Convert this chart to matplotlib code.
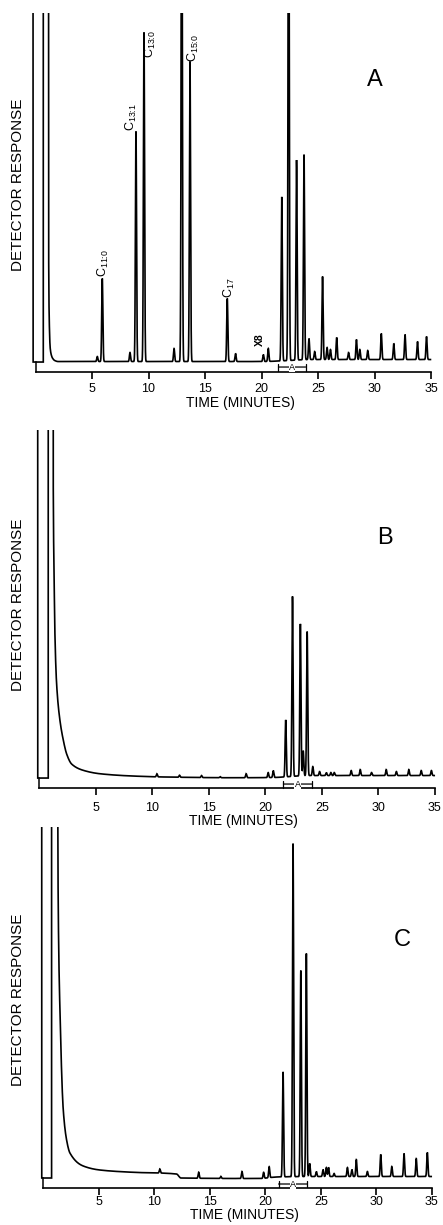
import numpy as np
import matplotlib
matplotlib.use("Agg")
import matplotlib.pyplot as plt

plt.rcParams['font.family'] = ['Liberation Sans', 'DejaVu Sans']
plt.rcParams['mathtext.fontset'] = 'custom'
plt.rcParams['mathtext.rm'] = 'Liberation Sans'
plt.rcParams['mathtext.it'] = 'Liberation Sans'

OFF = 10000.0  # off-scale pen response

# ---------------- Panel A data (time in min, response in arbitrary units) -------------
A_pen_start = -0.22
A_solvent = (0.69, 1.13)
A_tail_t = [1.13, 1.16, 1.22, 1.30, 1.40, 1.50, 1.70, 2.0, 20.0, 21.5, 24.5, 35.0]
A_tail_h = [OFF, 120, 40, 14, 7, 4, 1.5, 0.5, 0.5, 1.0, 2.5, 2.5]
A_peak_t = [5.47, 5.91, 8.36, 8.89, 9.60, 12.26, 12.94, 13.67, 16.97, 17.70,
            20.16, 20.60, 21.79, 22.40, 23.10, 23.76, 24.20, 24.70, 25.40, 25.80,
            26.10, 26.65, 27.70, 28.40, 28.70, 29.40, 30.60, 31.70, 32.70, 33.80, 34.60]
A_peak_h = [5, 83, 9, 230, 329, 13, 600, 300, 63, 8,
            7, 13, 164, 600, 200, 205, 21, 8, 83, 12,
            10, 22, 7, 20, 10, 9, 26, 16, 25, 18, 23]
A_labels = [r'C$_{\text{11:0}}$', r'C$_{\text{13:1}}$', r'C$_{\text{13:0}}$',
            r'C$_{\text{15:0}}$', r'C$_{\text{17}}$']
A_label_t = [5.97, 8.45, 10.13, 13.94, 17.2]
A_label_y = [85, 231, 332, 300, 64]
A_label_va = ['bottom', 'bottom', 'top', 'bottom', 'bottom']

# ---------------- Panel B data -------------
B_pen_start = -0.16
B_solvent = (0.78, 1.17)
B_tail_t = [1.17, 1.22, 1.30, 1.37, 1.52, 1.81, 2.11, 2.41, 2.85, 3.88, 5.35, 8.3, 11.3, 17.1, 20.5, 24.0, 35.0]
B_tail_h = [OFF, 300, 200, 144, 94, 58, 38, 24, 14, 7.7, 4.3, 2.0, 1.0, 0.3, 0.5, 2.5, 2.5]
B_peak_t = [10.40, 12.40, 14.35, 16.00, 18.30, 20.25, 20.70, 21.80, 22.40, 23.10, 23.35,
            23.70, 24.20, 24.80, 25.40, 25.80, 26.10, 27.60, 28.40, 29.40, 30.70,
            31.60, 32.70, 33.80, 34.70]
B_peak_h = [3, 2, 2, 1, 4, 5, 7, 57, 180, 152, 25,
            144, 9, 4, 3, 3, 3, 5, 6, 3, 6,
            4, 6, 5, 5]

# ---------------- Panel C data -------------
C_pen_start = -0.15
C_solvent = (0.75, 1.26)
C_tail_t = [1.26, 1.30, 1.35, 1.50, 1.80, 2.10, 2.40, 3.60, 5.10, 8.10, 12.0, 12.4, 19.5, 21.0, 24.5, 35.0]
C_tail_h = [OFF, 400, 268, 168, 68, 38, 25, 12, 8, 5.7, 4.0, 0.0, -0.5, 1.0, 1.5, 1.5]
C_peak_t = [10.50, 14.00, 16.00, 17.90, 19.85, 20.35, 21.60, 22.50, 23.20, 23.70,
            24.00, 24.60, 25.20, 25.50, 25.70, 26.20, 27.40, 27.80, 28.20, 29.20,
            30.40, 31.40, 32.50, 33.60, 34.60]
C_peak_h = [4, 6, 2, 7, 6, 11, 105, 333, 206, 223,
            13, 5, 7, 9, 9, 3, 9, 7, 17, 5,
            22, 10, 23, 18, 24]

xticks = [5, 10, 15, 20, 25, 30, 35]


def pchip(x, xp, yp):
    """Monotone cubic (Fritsch-Carlson) curve through the read-off points."""
    xp = np.asarray(xp, float)
    yp = np.asarray(yp, float)
    h = np.diff(xp)
    d = np.diff(yp) / h
    m = np.zeros_like(yp)
    m[0], m[-1] = d[0], d[-1]
    for k in range(1, len(xp) - 1):
        if d[k - 1] * d[k] <= 0:
            m[k] = 0.0
        else:
            w1 = 2 * h[k] + h[k - 1]
            w2 = h[k] + 2 * h[k - 1]
            m[k] = (w1 + w2) / (w1 / d[k - 1] + w2 / d[k])
    out = np.zeros_like(x, dtype=float)
    idx = np.clip(np.searchsorted(xp, x) - 1, 0, len(xp) - 2)
    inside = (x >= xp[0]) & (x <= xp[-1])
    xi = x[inside]
    k = idx[inside]
    s = (xi - xp[k]) / h[k]
    h00 = 2 * s ** 3 - 3 * s ** 2 + 1
    h10 = s ** 3 - 2 * s ** 2 + s
    h01 = -2 * s ** 3 + 3 * s ** 2
    h11 = s ** 3 - s ** 2
    out[inside] = h00 * yp[k] + h10 * h[k] * m[k] + h01 * yp[k + 1] + h11 * h[k] * m[k + 1]
    out[x > xp[-1]] = yp[-1]
    return out


panels = [
    dict(name='A', pen=A_pen_start, solv=A_solvent, tt=A_tail_t, th=A_tail_h,
         pt=A_peak_t, ph=A_peak_h, rect=[0.0725, 0.6963, 0.9056, 0.2931], top=349,
         letter=(30.0, 282), brk=(21.5, 23.9, -5), pad=3, ylab=1 - 185 / 1225, xlab=1 - 403 / 1225),
    dict(name='B', pen=B_pen_start, solv=B_solvent, tt=B_tail_t, th=B_tail_h,
         pt=B_peak_t, ph=B_peak_h, rect=[0.0814, 0.3567, 0.9052, 0.2922], top=348,
         letter=(30.6, 240), brk=(21.6, 24.1, -6), pad=5, ylab=1 - 605 / 1225, xlab=1 - 821 / 1225),
    dict(name='C', pen=C_pen_start, solv=C_solvent, tt=C_tail_t, th=C_tail_h,
         pt=C_peak_t, ph=C_peak_h, rect=[0.0902, 0.0302, 0.8895, 0.2947], top=351,
         letter=(32.3, 238), brk=(21.2, 23.8, -6), pad=0.5, ylab=1 - 1000 / 1225, xlab=1 - 1215 / 1225),
]

fig = plt.figure(figsize=(4.43, 12.25), dpi=100)
sigma = 0.05
xlabel_t = 18.1

for p in panels:
    ax = fig.add_axes(p['rect'])
    t = np.arange(p['pen'], 34.95, 0.002)
    y = pchip(t, p['tt'], p['th'])
    r0, r1 = p['solv']
    y = np.where((t >= r0) & (t < r1), OFF, y)
    for tc, h in zip(p['pt'], p['ph']):
        y = y + h * np.exp(-0.5 * ((t - tc) / sigma) ** 2)
    y[0] = OFF
    ax.plot(t, y, color='black', lw=1.2, solid_joinstyle='miter')

    ax.set_xlim(-0.3, 35.2)
    ax.set_ylim(-10, p['top'])
    for s in ['top', 'right']:
        ax.spines[s].set_visible(False)
    ax.spines['bottom'].set_bounds(0, 35)
    ax.spines['bottom'].set_linewidth(1.2)
    ax.spines['left'].set_position(('data', 0))
    ax.spines['left'].set_bounds(-10, 0)
    ax.spines['left'].set_linewidth(1.1)
    ax.set_yticks([])
    ax.set_xticks(xticks)
    ax.set_xticklabels([str(v) for v in xticks])
    ax.tick_params(axis='x', direction='out', length=5, width=1.2, pad=p['pad'], labelsize=9)
    ax.set_xticks([35], minor=True)
    ax.tick_params(axis='x', which='minor', direction='in', length=4, width=1.2)
    ax.patch.set_alpha(0)

    ax.text(p['letter'][0], p['letter'][1], p['name'], fontsize=17, ha='center', va='center')
    b0, b1, by = p['brk']
    ax.annotate('', xy=(b0, by), xytext=(b1, by),
                arrowprops=dict(arrowstyle='|-|, widthA=0.25, widthB=0.25', lw=0.9, color='black',
                                shrinkA=0, shrinkB=0))
    ax.text((b0 + b1) / 2, by, 'A', fontsize=6.5, ha='center', va='center',
            bbox=dict(facecolor='white', edgecolor='none', pad=0.3))

    fig.text(18 / 443, p['ylab'], 'DETECTOR RESPONSE', rotation=90, fontsize=11,
             ha='center', va='center')
    xl = (p['rect'][0] * 443 + (xlabel_t + 0.3) * p['rect'][2] * 443 / 35.5) / 443
    fig.text(xl, p['xlab'], 'TIME (MINUTES)', fontsize=10, ha='center', va='center')

    if p['name'] == 'A':
        for lab, lt, ly, va in zip(A_labels, A_label_t, A_label_y, A_label_va):
            ax.text(lt, ly, lab, rotation=90, fontsize=9, ha='center', va=va)
        ax.text(19.87, 22, 'X8', rotation=90, fontsize=7.5, fontweight='bold', ha='center', va='center')

fig.savefig('out.png', dpi=100)
